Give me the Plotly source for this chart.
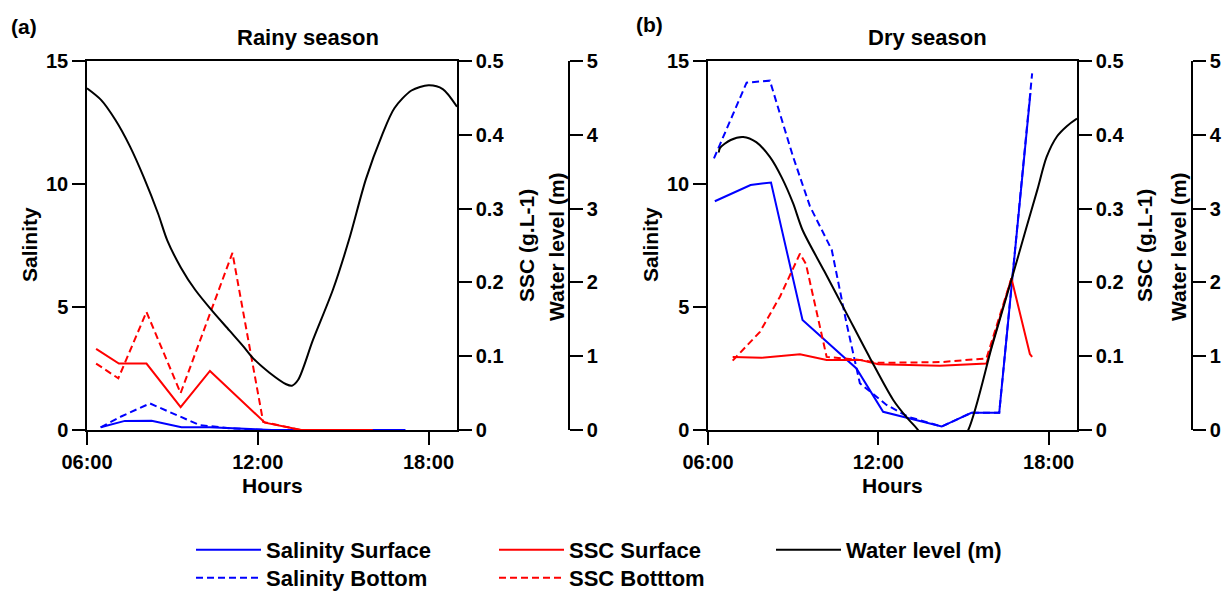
import plotly.graph_objects as go

W, H = 1228, 592

# ---------------- Rainy season (a) ----------------
rain_wl_hours = [6.0, 6.5, 7.0, 7.5, 8.0, 8.5, 8.82, 9.3, 9.8, 10.43, 11.0, 11.5, 11.84, 12.4,
                 13.0, 13.2, 13.42, 13.94, 14.64, 15.2, 15.8, 16.37, 16.8, 17.4, 18.0, 18.5, 19.0]
rain_wl = [4.63, 4.47, 4.20, 3.85, 3.42, 2.93, 2.57, 2.20, 1.90, 1.60, 1.35, 1.13, 0.97, 0.78,
           0.62, 0.60, 0.68, 1.22, 1.90, 2.57, 3.40, 4.00, 4.36, 4.60, 4.67, 4.62, 4.38]

rain_sal_s_hours = [6.48, 7.33, 8.27, 9.32, 10.32, 11.6, 12.5, 13.5, 14.5, 15.5, 16.5, 17.19]
rain_sal_s = [0.11, 0.37, 0.38, 0.11, 0.11, 0.03, 0.0, 0.0, 0.0, 0.0, 0.0, 0.0]

rain_sal_b_hours = [6.48, 7.2, 8.21, 9.96, 11.0, 12.3, 13.5]
rain_sal_b = [0.11, 0.55, 1.08, 0.20, 0.07, 0.0, 0.0]

rain_ssc_s_hours = [6.32, 7.12, 8.09, 9.29, 10.32, 12.25, 13.53, 14.5, 15.0, 16.04]
rain_ssc_s = [0.110, 0.090, 0.090, 0.031, 0.080, 0.010, 0.0, 0.0, 0.0, 0.0]

rain_ssc_b_hours = [6.32, 7.10, 8.09, 9.29, 11.11, 12.19, 13.5]
rain_ssc_b = [0.090, 0.070, 0.160, 0.050, 0.240, 0.011, 0.0]

# ---------------- Dry season (b) ----------------
dry_wl_hours = [6.38, 6.42, 6.8, 7.24, 7.7, 8.18, 8.6, 9.0, 9.33, 10.1, 10.88, 11.7, 12.52, 13.0,
                13.4, 14.3, 15.17, 16.0, 16.7, 17.2, 17.6, 17.93, 18.3, 18.65, 19.0]
dry_wl = [3.76, 3.82, 3.93, 3.97, 3.90, 3.70, 3.42, 3.07, 2.71, 2.15, 1.58, 0.98, 0.41, 0.17,
          0.0, -0.55, 0.0, 1.13, 2.05, 2.72, 3.25, 3.70, 3.98, 4.12, 4.22]

dry_sal_s_hours = [6.24, 7.50, 8.22, 9.33, 11.23, 12.17, 14.23, 15.28, 16.26, 17.36]
dry_sal_s = [9.30, 9.96, 10.06, 4.47, 2.50, 0.74, 0.14, 0.70, 0.70, 13.7]

dry_sal_b_hours = [6.21, 7.36, 8.18, 9.0, 9.59, 10.36, 10.88, 11.35, 12.29, 13.05, 14.23,
                   15.28, 16.26, 17.42]
dry_sal_b = [11.04, 14.12, 14.20, 11.1, 9.1, 7.32, 4.34, 1.90, 1.02, 0.54, 0.14, 0.70, 0.70, 14.5]

dry_ssc_s_hours = [6.87, 7.89, 9.24, 10.18, 11.35, 12.0, 14.17, 15.81, 16.69, 17.34, 17.42]
dry_ssc_s = [0.099, 0.098, 0.1025, 0.095, 0.095, 0.089, 0.087, 0.090, 0.2055, 0.103, 0.099]

dry_ssc_b_hours = [6.87, 7.83, 8.54, 9.24, 9.45, 10.18, 11.35, 12.0, 14.2, 15.81, 16.69]
dry_ssc_b = [0.094, 0.133, 0.181, 0.239, 0.225, 0.099, 0.095, 0.091, 0.092, 0.097, 0.2055]

# ---------------- axes / labels ----------------
x_tickvals = [6, 12, 18]
x_ticktext = ["06:00", "12:00", "18:00"]
x_range = [6, 19]
sal_range, sal_dtick = [0, 15], 5
ssc_range, ssc_dtick = [0, 0.5], 0.1
wl_range, wl_dtick = [0, 5], 1

FONT = "Liberation Sans, Arial, sans-serif"
BLUE, RED, BLACK = "#0000FF", "#FF0000", "#000000"
DASH = "7px,4px"
LW = 2

fig = go.Figure()

panels = [
    dict(xa="x", ys="y", yc="y2", yw="y3", show=True,
         sal_s=(rain_sal_s_hours, rain_sal_s), sal_b=(rain_sal_b_hours, rain_sal_b),
         ssc_s=(rain_ssc_s_hours, rain_ssc_s), ssc_b=(rain_ssc_b_hours, rain_ssc_b),
         wl=(rain_wl_hours, rain_wl)),
    dict(xa="x2", ys="y4", yc="y5", yw="y6", show=False,
         sal_s=(dry_sal_s_hours, dry_sal_s), sal_b=(dry_sal_b_hours, dry_sal_b),
         ssc_s=(dry_ssc_s_hours, dry_ssc_s), ssc_b=(dry_ssc_b_hours, dry_ssc_b),
         wl=(dry_wl_hours, dry_wl)),
]

for p in panels:
    specs = [
        ("Salinity Surface", p["sal_s"], p["ys"], BLUE, "solid", "legend", "linear"),
        ("Salinity Bottom", p["sal_b"], p["ys"], BLUE, DASH, "legend2", "linear"),
        ("SSC Surface", p["ssc_s"], p["yc"], RED, "solid", "legend3", "linear"),
        ("SSC Botttom", p["ssc_b"], p["yc"], RED, DASH, "legend4", "linear"),
        ("Water level (m)", p["wl"], p["yw"], BLACK, "solid", "legend5", "spline"),
    ]
    for name, (xs, ys), yax, col, dash, leg, shape in specs:
        fig.add_trace(go.Scatter(
            x=xs, y=ys, xaxis=p["xa"], yaxis=yax, mode="lines", name=name,
            line=dict(color=col, width=LW, dash=dash, shape=shape,
                      smoothing=0.8 if shape == "spline" else None),
            showlegend=p["show"], legend=leg, legendgroup=name,
            hoverinfo="skip"))

tickfont = dict(family=FONT, size=20, color="black", weight="bold")
common = dict(showgrid=False, zeroline=False, showline=True, linecolor="black",
              linewidth=1.5, ticks="outside", ticklen=13, tickwidth=1.5,
              tickcolor="black", tickfont=tickfont)

ydom = [1 - 430 / H, 1 - 61 / H]
xdoms = [[87 / W, 457 / W], [708 / W, 1077 / W]]
wl_pos = [569 / W, 1192 / W]

layout = dict(
    width=W, height=H, margin=dict(l=0, r=0, t=0, b=0, autoexpand=False),
    paper_bgcolor="white", plot_bgcolor="white",
    font=dict(family=FONT, size=20, color="black", weight="bold"),
    xaxis=dict(domain=xdoms[0], range=x_range, tickvals=x_tickvals, ticktext=x_ticktext,
               anchor="y", mirror=True, **common),
    xaxis2=dict(domain=xdoms[1], range=x_range, tickvals=x_tickvals, ticktext=x_ticktext,
                anchor="y4", mirror=True, **common),
    yaxis=dict(domain=ydom, range=sal_range, dtick=sal_dtick, anchor="x", side="left", **common),
    yaxis2=dict(domain=ydom, range=ssc_range, dtick=ssc_dtick, anchor="x", side="right",
                overlaying="y", **common),
    yaxis3=dict(domain=ydom, range=wl_range, dtick=wl_dtick, anchor="free", position=wl_pos[0],
                side="right", overlaying="y", **common),
    yaxis4=dict(domain=ydom, range=sal_range, dtick=sal_dtick, anchor="x2", side="left", **common),
    yaxis5=dict(domain=ydom, range=ssc_range, dtick=ssc_dtick, anchor="x2", side="right",
                overlaying="y4", **common),
    yaxis6=dict(domain=ydom, range=wl_range, dtick=wl_dtick, anchor="free", position=wl_pos[1],
                side="right", overlaying="y4", **common),
)

legfont = dict(family=FONT, size=22, color="black", weight="bold")
legcommon = dict(orientation="v", xanchor="left", yanchor="middle", font=legfont,
                 bgcolor="rgba(0,0,0,0)", tracegroupgap=0, itemwidth=65)
row1, row2 = 550, 578
layout["legend"] = dict(x=191 / W, y=1 - row1 / H, **legcommon)
layout["legend2"] = dict(x=191 / W, y=1 - row2 / H, **legcommon)
layout["legend3"] = dict(x=494 / W, y=1 - row1 / H, **legcommon)
layout["legend4"] = dict(x=494 / W, y=1 - row2 / H, **legcommon)
layout["legend5"] = dict(x=771 / W, y=1 - row1 / H, **legcommon)

fig.update_layout(**layout)

def ann(text, xp, yp, size=20, angle=0):
    fig.add_annotation(text=text, x=xp / W, y=1 - yp / H, xref="paper", yref="paper",
                       showarrow=False, xanchor="center", yanchor="middle", textangle=angle,
                       font=dict(family=FONT, size=size, color="black", weight="bold"))

ann("(a)", 24, 26, 21)
ann("(b)", 649, 25, 21)
ann("Rainy season", 308, 37, 22)
ann("Dry season", 927, 37, 22)
ann("Hours", 272, 485, 21)
ann("Hours", 892, 485, 21)
for xs_, xc_, xw_ in [(30, 526, 556), (651, 1144, 1178)]:
    ann("Salinity", xs_, 245, 21, -90)
    ann("SSC (g.L-1)", xc_, 246, 21, -90)
    ann("Water level (m)", xw_, 247, 21, -90)

fig.write_html("out.html")
